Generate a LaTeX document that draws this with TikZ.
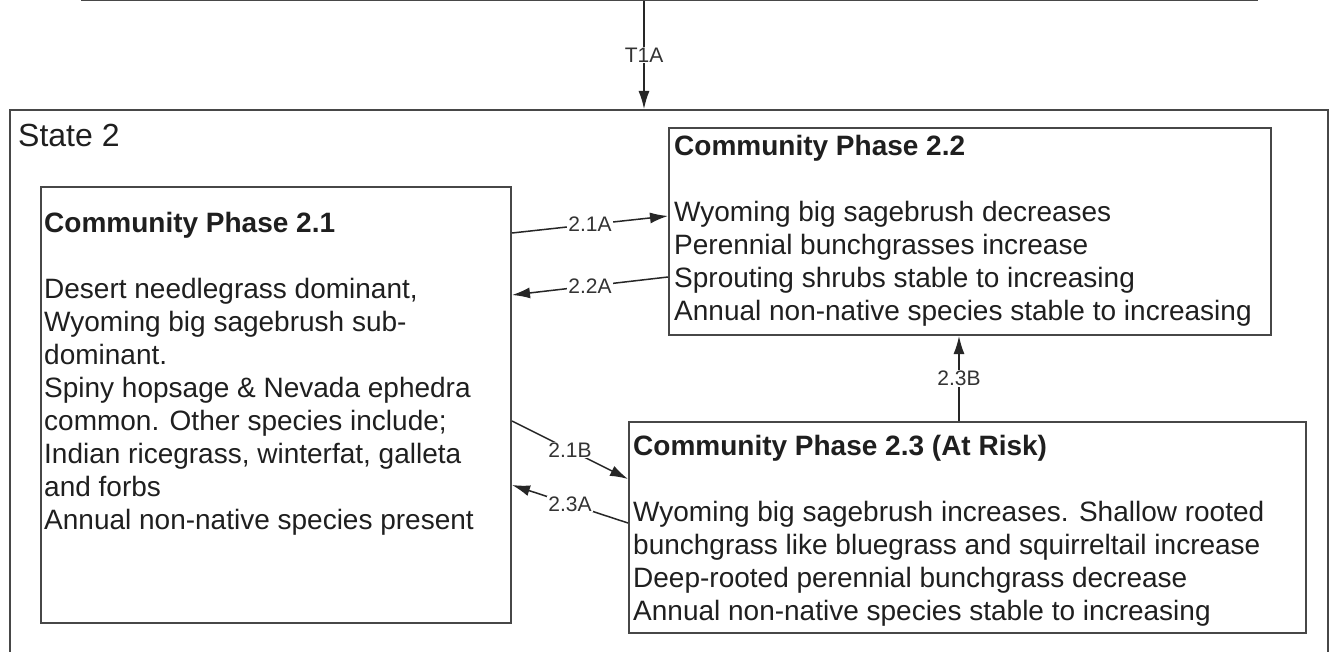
\documentclass[tikz,border=0pt]{standalone}
\usepackage{fontspec}
\setmainfont{Liberation Sans}
\usetikzlibrary{arrows.meta}
\begin{document}
\begin{tikzpicture}[x=1pt,y=-1pt,
  box/.style={draw=black!72,line width=2pt,rectangle,inner sep=0pt,fill=white},
  body/.style={anchor=north west,inner sep=0pt,align=left,font=\fontsize{28}{33}\selectfont,text=black!88},
  lbl/.style={fill=white,inner sep=1pt,font=\fontsize{21}{23}\selectfont,text=black!80},
  conn/.style={draw=black!85,line width=1.5pt,-{Latex[length=18pt,width=11pt]}}]
\useasboundingbox (0,0) rectangle (1335,652);
\clip (0,0) rectangle (1335,652);
\fill[white] (0,0) rectangle (1335,652);
% outer boxes
\node[box,minimum width=1175pt,minimum height=80pt,anchor=south west] (top) at (81,1.5) {};
\node[box,minimum width=1318pt,minimum height=620pt,anchor=north west] (s2) at (9,109) {};
\node[anchor=base west,inner sep=0pt,font=\fontsize{32}{36}\selectfont,text=black!88] (s2t) at (18,147) {State 2};
% phase boxes
\node[box,minimum width=470pt,minimum height=436pt,anchor=north west] (b21) at (40,186) {};
\node[box,minimum width=602pt,minimum height=207pt,anchor=north west] (b22) at (668,127) {};
\node[box,minimum width=677pt,minimum height=211pt,anchor=north west] (b23) at (628,421) {};
% texts
\node[body] (t21) at (44,211.6) {\textbf{Community Phase 2.1}\\[33pt]Desert needlegrass dominant,\\Wyoming big sagebrush sub-\\dominant.\\Spiny hopsage \& Nevada ephedra\\common. Other species include;\\Indian ricegrass, winterfat, galleta\\and forbs\\Annual non-native species present};
\node[body] (t22) at (674,134.6) {\textbf{Community Phase 2.2}\\[33pt]Wyoming big sagebrush decreases\\Perennial bunchgrasses increase\\Sprouting shrubs stable to increasing\\Annual non-native species stable to increasing};
\node[body] (t23) at (633,434.6) {\textbf{Community Phase 2.3 (At Risk)}\\[33pt]Wyoming big sagebrush increases. Shallow rooted\\bunchgrass like bluegrass and squirreltail increase\\Deep-rooted perennial bunchgrass decrease\\Annual non-native species stable to increasing};
% connectors
\draw[conn] ([xshift=-25.5pt]top.south) -- node[lbl] {T1A} ([xshift=-25.5pt]top.south |- s2.north);
\draw[conn] ([yshift=-47pt]b21.north east) -- node[lbl] {2.1A} ([yshift=-89pt]b22.north west);
\draw[conn] ([yshift=-150pt]b22.north west) -- node[lbl] {2.2A} ([yshift=-109pt]b21.north east);
\draw[conn] ([yshift=-235pt]b21.north east) -- node[lbl] {2.1B} ([yshift=-58pt]b23.north west);
\draw[conn] ([yshift=-102pt]b23.north west) -- node[lbl] {2.3A} ([yshift=-299pt]b21.north east);
\draw[conn] ([xshift=-8.5pt]b23.north) -- node[lbl] {2.3B} ([xshift=-8.5pt]b23.north |- b22.south);
\end{tikzpicture}
\end{document}
